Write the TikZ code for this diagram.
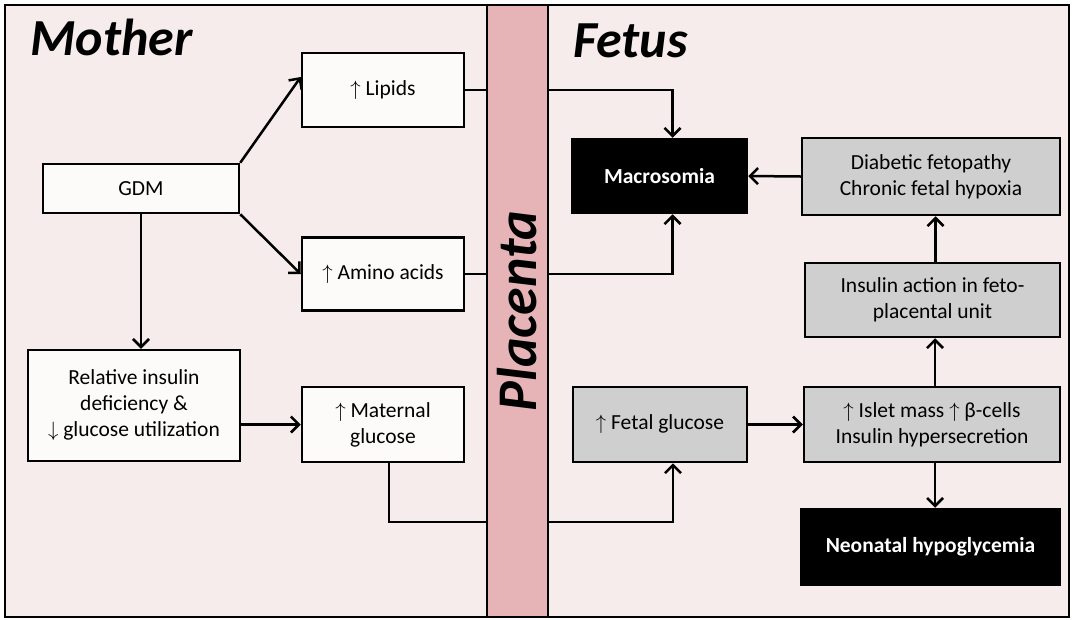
\documentclass[tikz,border=0pt]{standalone}
\usepackage{fontspec}
\setmainfont{Carlito}
\usepackage{tikz}
\usetikzlibrary{arrows.meta,positioning,calc}

\definecolor{bgpink}{HTML}{F7ECEC}
\definecolor{plapink}{HTML}{E6B4B6}
\definecolor{boxwhite}{HTML}{FDFAFA}
\definecolor{boxgray}{HTML}{CFCFCF}

\begin{document}
\begin{tikzpicture}[x=1pt,y=-1pt,>={Straight Barb[length=8pt,width=16pt]},
  every node/.style={font=\fontsize{21.5}{26}\selectfont},
  wbox/.style={draw,line width=2.5pt,fill=boxwhite,align=center,inner sep=0pt},
  gbox/.style={wbox,fill=boxgray},
  kbox/.style={wbox,fill=black,text=white,font=\fontsize{21.5}{26}\selectfont\bfseries},
  title/.style={font=\fontsize{52}{52}\selectfont\bfseries\itshape},
  link/.style={line width=2.5pt},
  arr/.style={link,->}]
  \useasboundingbox (0,0) rectangle (1073,619);
  \draw[fill=bgpink,line width=1.5pt] (5,5) rectangle (1069,617);

  % placenta band
  \node[draw,line width=2.5pt,fill=plapink,minimum width=61pt,minimum height=612pt,inner sep=0pt] (placenta)
    at (517.5,311) {\rotatebox{90}{\fontsize{56}{56}\selectfont\bfseries\itshape Placenta}};

  \node[title,anchor=base west] (mother) at (27,55) {Mother};
  \node[title,anchor=base west] (fetus) at (570,57) {Fetus};

  % mother side
  \node[wbox,minimum width=196pt,minimum height=49pt] (gdm) at (141,188.5) {GDM};
  \node[wbox,minimum width=162pt,minimum height=74pt] (lipids) at (383,90) {$\uparrow$ Lipids};
  \node[wbox,minimum width=162pt,minimum height=73pt] (amino) at (383,274) {$\uparrow$ Amino acids};
  \node[wbox,minimum width=212pt,minimum height=111pt] (relative) at (134,405.5)
    {Relative insulin\\deficiency \&\\$\downarrow$ glucose utilization};
  \node[wbox,minimum width=162pt,minimum height=75pt] (maternal) at (383,424.5)
    {$\uparrow$ Maternal\\glucose};

  % fetus side
  \node[kbox,minimum width=175pt,minimum height=74pt] (macro) at (659.5,176) {Macrosomia};
  \node[gbox,minimum width=258pt,minimum height=77pt] (diabetic) at (931,176.5)
    {Diabetic fetopathy\\Chronic fetal hypoxia};
  \node[gbox,minimum width=255pt,minimum height=74pt] (action) at (932.5,300)
    {Insulin action in feto-\\placental unit};
  \node[gbox,minimum width=174pt,minimum height=75pt] (fetal) at (660,424.5) {$\uparrow$ Fetal glucose};
  \node[gbox,minimum width=256pt,minimum height=75pt] (islet) at (932,424.5)
    {$\uparrow$ Islet mass $\uparrow$ β-cells\\Insulin hypersecretion};
  \node[kbox,minimum width=259pt,minimum height=76pt] (neonatal) at (930.5,547) {Neonatal hypoglycemia};

  \coordinate (mbend) at (389,522);

  % mother arrows
  \draw[arr] (gdm.north east) -- ([yshift=13pt]lipids.west);
  \draw[arr] (gdm.south east) -- (amino.west);
  \draw[arr] (gdm.south) -- (gdm.south |- relative.north);
  \draw[arr] (relative.east |- maternal.west) -- (maternal.west);

  % through the placenta
  \draw[link] (lipids.east) -- (placenta.west |- lipids.east);
  \draw[arr] (placenta.east |- lipids.east) -| ([xshift=13pt]macro.north);
  \draw[link] (amino.east) -- (placenta.west |- amino.east);
  \draw[arr] (placenta.east |- amino.east) -| ([xshift=13pt]macro.south);
  \draw[link] (maternal.south -| mbend) -- (mbend) -- (placenta.west |- mbend);
  \draw[arr] (placenta.east |- mbend) -| ([xshift=13pt]fetal.south);

  % fetus arrows
  \draw[arr] (fetal.east) -- (islet.west);
  \draw[arr] ([xshift=3pt]islet.north) -- ([xshift=3pt]islet.north |- action.south);
  \draw[arr] ([xshift=3pt]action.north) -- ([xshift=3pt]action.north |- diabetic.south);
  \draw[arr] ([xshift=3pt]islet.south) -- ([xshift=3pt]islet.south |- neonatal.north);
  \draw[arr] (diabetic.west) -- (macro.east);
\end{tikzpicture}
\end{document}
